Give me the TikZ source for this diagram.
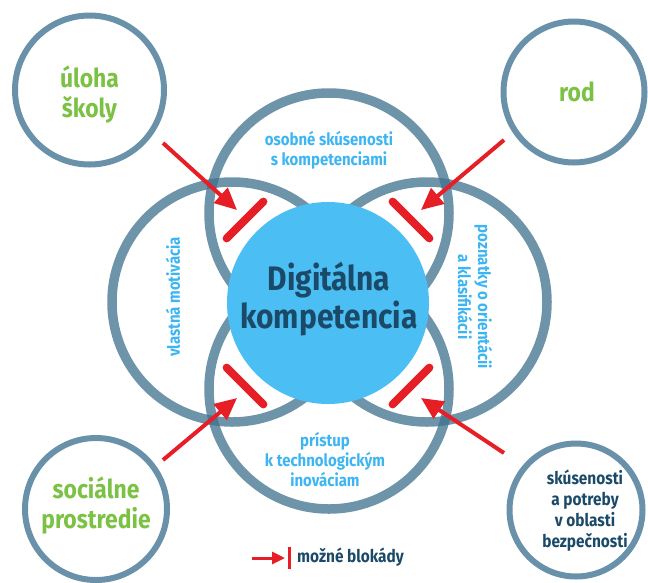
\documentclass[tikz,border=0pt]{standalone}
\usepackage{fontspec}
\setmainfont{Fira Sans}[FakeStretch=0.88]
\usetikzlibrary{arrows.meta}

\definecolor{ringc}{RGB}{62,112,142}
\definecolor{edgec}{RGB}{106,145,170}
\definecolor{coreblue}{RGB}{75,190,243}
\definecolor{navy}{RGB}{27,74,104}
\definecolor{skyt}{RGB}{61,181,242}
\definecolor{leaf}{RGB}{123,193,67}
\definecolor{alarm}{RGB}{230,30,37}

\tikzset{
  ring/.style={circle, draw=ringc, draw opacity=0.75, line width=9.5pt,
    inner sep=0pt, minimum size=240pt},
  outer/.style={circle, draw=edgec, line width=6pt, inner sep=0pt},
  core/.style={circle, fill=coreblue, inner sep=0pt, minimum size=202pt},
  blockbar/.style={draw=alarm, line width=8pt, line cap=round},
  blockarrow/.style={draw=alarm, line width=4pt,
    -{Triangle[length=22pt,width=20pt]}},
  greenlbl/.style={text=leaf, font=\bfseries\fontsize{26}{30}\selectfont, align=center},
  skylbl/.style={text=skyt, font=\bfseries\fontsize{17}{20}\selectfont, align=center},
  navylbl/.style={text=navy, font=\bfseries\fontsize{17.5}{21}\selectfont, align=center},
}

\begin{document}
\begin{tikzpicture}[x=1pt,y=-1pt]
\useasboundingbox (0,0) rectangle (648,582);

% four overlapping rings
\node[ring] (rtop) at (329,213) {};
\node[ring] (rbot) at (329,389) {};
\node[ring] (rleft) at (232,302) {};
\node[ring] (rright) at (427,302) {};

% outer factor circles
\node[outer, minimum size=149pt] (fschool) at (89.5,90) {};
\node[outer, minimum size=141pt] (fgender) at (574,92) {};
\node[outer, minimum size=142pt] (fsocial) at (96,509) {};
\node[outer, minimum size=133pt] (fsafety) at (576,510) {};

% central circle
\node[core] (core) at (328,303) {};

% blocking bars
\draw[blockbar] (226.6,238.4) -- (263.4,201.6);
\draw[blockbar] (392.6,201.6) -- (429.4,238.4);
\draw[blockbar] (226.6,367.6) -- (263.4,404.4);
\draw[blockbar] (392.6,404.4) -- (429.4,367.6);

% arrows from the outer factors
\coordinate (a1s) at (163,143); \coordinate (a1e) at (237,210);
\coordinate (a2s) at (504,140); \coordinate (a2e) at (421,210);
\coordinate (a3s) at (163,460); \coordinate (a3e) at (237,398);
\coordinate (a4s) at (504,453); \coordinate (a4e) at (421,398);
\draw[blockarrow] (a1s) -- (a1e);
\draw[blockarrow] (a2s) -- (a2e);
\draw[blockarrow] (a3s) -- (a3e);
\draw[blockarrow] (a4s) -- (a4e);

% texts
\node[text=navy, font=\bfseries\fontsize{34}{38}\selectfont, align=center]
  (tcore) at (329,299) {Digitálna\\kompetencia};
\node[greenlbl] (tschool) at (89.5,95) {úloha\\školy};
\node[greenlbl] (tgender) at (577,92) {rod};
\node[greenlbl] (tsocial) at (96,506) {sociálne\\prostredie};
\node[navylbl] (tsafety) at (585,511) {skúsenosti\\a potreby\\v oblasti\\bezpečnosti};
\node[skylbl] (ttop) at (329,150) {osobné skúsenosti\\s kompetenciami};
\node[skylbl] (tbot) at (325,460) {prístup\\k technologickým\\inováciam};
\node[skylbl, rotate=90] (tleft) at (173,297) {vlastná motivácia};
\node[skylbl, rotate=-90] (tright) at (475,297) {poznatky o orientácii\\a klasifikácii};

% legend
\coordinate (ls) at (252,558); \coordinate (le) at (285,558);
\draw[draw=alarm, line width=3pt, -{Triangle[length=13pt,width=12pt]}] (ls) -- (le);
\coordinate (lb1) at (289.5,547); \coordinate (lb2) at (289.5,569);
\draw[draw=alarm, line width=3pt] (lb1) -- (lb2);
\node[navylbl, anchor=west, inner sep=0pt] (tlegend) at (297,557) {možné blokády};
\end{tikzpicture}
\end{document}
